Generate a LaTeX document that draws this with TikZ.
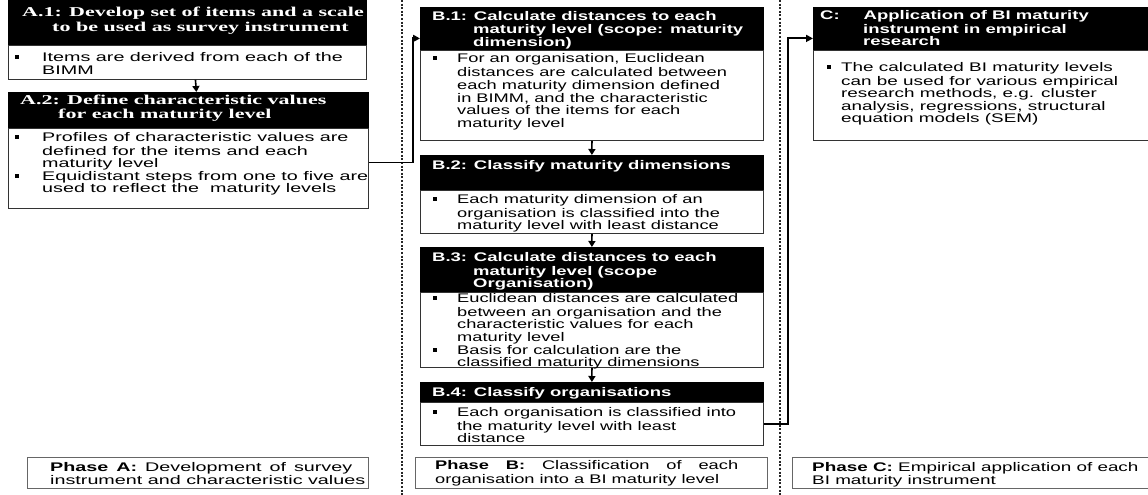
\documentclass[tikz,border=0pt]{standalone}
\usepackage{fontspec}
\usetikzlibrary{arrows.meta}
\newfontfamily\fA[FakeStretch=1.58]{Liberation Sans}
\newfontfamily\fB[FakeStretch=1.46]{Liberation Sans}
\newfontfamily\fC[FakeStretch=1.51]{Liberation Sans}
\newfontfamily\fHB[FakeStretch=1.48]{Liberation Sans}
\newfontfamily\fHA[FakeStretch=1.63]{Liberation Serif}
\newcommand\sz[1]{\fontsize{12.5}{#1}\selectfont}
\newcommand\bul[1]{\llap{\rule[2.6pt]{4pt}{4pt}\hspace*{#1}}}
\begin{document}
\begin{tikzpicture}[x=1pt,y=-1pt,
  hbox/.style={draw=black,fill=black,anchor=north west,inner sep=0pt,line width=0.8pt},
  bbox/.style={draw=black!80,fill=white,anchor=north west,inner sep=0pt,line width=0.9pt},
  pbox/.style={draw=black!60,fill=white,anchor=north west,inner sep=0pt,line width=0.9pt},
  txt/.style={anchor=north west,inner sep=0pt,align=left},
  htxt/.style={txt,text=white},
  varr/.style={line width=1.6pt,-{Triangle[length=6pt,width=7pt]}},
  conn/.style={line width=1.9pt,-{Triangle[length=7pt,width=7pt]}},
  sepline/.style={line width=1.3pt,dash pattern=on 2pt off 1.6pt,black!85}]
\useasboundingbox (0,0) rectangle (1148,495);
% separators
\coordinate (s1t) at (402,0); \coordinate (s1b) at (402,495);
\coordinate (s2t) at (780,0); \coordinate (s2b) at (780,495);
\draw[sepline] (s1t) -- (s1b);
\draw[sepline] (s2t) -- (s2b);
% ---------- Phase A ----------
\node[hbox,minimum width=358pt,minimum height=47pt] (a1h) at (8,-2) {};
\node[bbox,minimum width=358pt,minimum height=34pt] (a1b) at (8,45) {};
\node[hbox,minimum width=360pt,minimum height=36pt] (a2h) at (8,92) {};
\node[bbox,minimum width=360pt,minimum height=80pt] (a2b) at (8,128) {};
\node[htxt,font=\fHA\bfseries\fontsize{13.5}{15}\selectfont] (a1ht) at (22,6.2)
  {\strut A.1: Develop set of items and a scale\\\hspace*{30pt}to be used as survey instrument};
\node[txt,font=\fA\sz{12.5}] (a1bt) at (42,52.3)
  {\strut\bul{23pt}Items are derived from each of the\\BIMM};
\node[htxt,font=\fHA\bfseries\fontsize{13.5}{14}\selectfont] (a2ht) at (20,94.4)
  {\strut A.2: Define characteristic values\\\hspace*{38pt}for each maturity level};
\node[txt,font=\fA\sz{12.5}] (a2bt) at (42,132.3)
  {\strut\bul{23pt}Profiles of characteristic values are\\defined for the items and each\\maturity level\\
   \bul{23pt}Equidistant steps from one to five are\\used to reflect the\ \ maturity levels};
\node[pbox,minimum width=341pt,minimum height=31pt] (pa) at (27,457) {};
\node[txt,font=\fA\sz{13}] (pat) at (50,462.3)
  {\strut\makebox[302pt][s]{\textbf{Phase A:} Development of survey}\\instrument and characteristic values};
\draw[varr] ([xshift=8pt]a1b.south) -- ([xshift=8pt]a2h.north);
% ---------- Phase B ----------
\node[hbox,minimum width=343pt,minimum height=43pt] (b1h) at (420,7) {};
\node[bbox,minimum width=343pt,minimum height=90pt] (b1b) at (420,50) {};
\node[hbox,minimum width=343pt,minimum height=35pt] (b2h) at (420,155) {};
\node[bbox,minimum width=343pt,minimum height=43pt] (b2b) at (420,190) {};
\node[hbox,minimum width=343pt,minimum height=45pt] (b3h) at (420,247) {};
\node[bbox,minimum width=343pt,minimum height=75pt] (b3b) at (420,292) {};
\node[hbox,minimum width=343pt,minimum height=20pt] (b4h) at (420,382) {};
\node[bbox,minimum width=343pt,minimum height=43pt] (b4b) at (420,402) {};
\node[htxt,font=\fHB\bfseries\sz{13}] (b1ht) at (432,11.3)
  {\strut B.1: Calculate distances to each\\\hspace*{41pt}maturity level (scope: maturity\\\hspace*{41pt}dimension)};
\node[txt,font=\fB\sz{12.8}] (b1bt) at (457,53.3)
  {\strut\bul{20pt}For an organisation, Euclidean\\distances are calculated between\\each maturity dimension defined\\in BIMM, and the characteristic\\values of the items for each\\maturity level};
\node[htxt,font=\fHB\bfseries\sz{13}] (b2ht) at (432,160.3)
  {\strut B.2: Classify maturity dimensions};
\node[txt,font=\fB\sz{12}] (b2bt) at (457,194.3)
  {\strut\bul{20pt}Each maturity dimension of an\\organisation is classified into the\\maturity level with least distance};
\node[htxt,font=\fHB\bfseries\sz{12.5}] (b3ht) at (432,252.3)
  {\strut B.3: Calculate distances to each\\\hspace*{41pt}maturity level (scope\\\hspace*{41pt}Organisation)};
\node[txt,font=\fB\sz{12.6}] (b3bt) at (457,293.3)
  {\strut\bul{20pt}Euclidean distances are calculated\\between an organisation and the\\characteristic values for each\\maturity level\\
   \bul{20pt}Basis for calculation are the\\classified maturity dimensions};
\node[htxt,font=\fHB\bfseries\sz{13}] (b4ht) at (432,387.3)
  {\strut B.4: Classify organisations};
\node[txt,font=\fB\sz{12.5}] (b4bt) at (457,407.3)
  {\strut\bul{20pt}Each organisation is classified into\\the maturity level with least\\distance};
\node[pbox,minimum width=352pt,minimum height=31pt] (pb) at (415,457) {};
\node[txt,font=\fB\sz{12}] (pbt) at (435,460.3)
  {\strut\makebox[303pt][s]{\textbf{Phase B:} Classification of each}\\organisation into a BI maturity level};
\draw[varr] (b1b.south) -- (b2h.north);
\draw[varr] (b2b.south) -- (b3h.north);
\draw[varr] (b3b.south) -- (b4h.north);
% ---------- Phase C ----------
\node[hbox,minimum width=336pt,minimum height=43pt] (ch) at (813,7) {};
\node[bbox,minimum width=336pt,minimum height=90pt] (cb) at (813,50) {};
\node[htxt,font=\fHB\bfseries\sz{12.5}] (cht) at (820,10.3)
  {\strut C:\hspace*{24pt}Application of BI maturity\\\hspace*{43pt}instrument in empirical\\\hspace*{43pt}research};
\node[txt,font=\fC\sz{12.5}] (cbt) at (841,62.3)
  {\strut\bul{10pt}The calculated BI maturity levels\\can be used for various empirical\\research methods, e.g. cluster\\analysis, regressions, structural\\equation models (SEM)};
\node[pbox,minimum width=356pt,minimum height=31pt] (pc) at (792,457) {};
\node[txt,font=\fC\sz{13}] (pct) at (812,462.3)
  {\strut\textbf{Phase C:} Empirical application of each\\BI maturity instrument};
% ---------- connectors ----------
\coordinate (k1) at (413,0);
\coordinate (b1in) at ([yshift=-9.5pt]b1h.west);
\draw[conn] ([yshift=6pt]a2b.east) -| (k1 |- b1in) -- (b1in);
\coordinate (k2) at (788,0);
\coordinate (cin) at ([yshift=-9.5pt]ch.west);
\draw[conn] (b4b.east) -| (k2 |- cin) -- (cin);
\end{tikzpicture}
\end{document}
